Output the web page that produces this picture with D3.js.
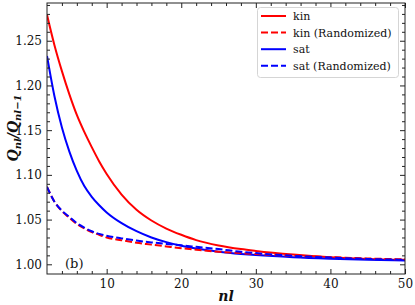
<!DOCTYPE html>
<html><head><meta charset="utf-8">
<script src="https://cdn.jsdelivr.net/npm/d3@7"></script>
<style>
html,body{margin:0;padding:0;background:#fff;}
svg{display:block;}
text{font-family:"DejaVu Serif",serif;fill:#111;}
</style></head>
<body>
<svg id="c" width="415" height="305"></svg>
<script>
const nl = [2,3,4,5,6,7,8,9,10,12,14,16,18,20,22,25,28,30,35,40,45,50];
const kin = [1.279,1.245,1.216,1.190,1.167,1.148,1.131,1.115,1.101,1.078,1.061,1.049,1.040,1.033,1.027,1.021,1.017,1.015,1.011,1.008,1.006,1.005];
const kinRand = [1.0866,1.070,1.0595,1.052,1.045,1.040,1.036,1.033,1.030,1.027,1.024,1.022,1.020,1.018,1.0163,1.014,1.0125,1.0115,1.0095,1.008,1.0065,1.0055];
const sat = [1.233,1.188,1.153,1.126,1.1045,1.0875,1.0755,1.066,1.058,1.046,1.037,1.030,1.0248,1.0208,1.0176,1.0141,1.0116,1.0103,1.0079,1.0063,1.0051,1.0042];
const satRand = [1.0866,1.070,1.060,1.053,1.046,1.041,1.037,1.034,1.032,1.029,1.0265,1.0245,1.0228,1.0212,1.0195,1.017,1.014,1.0125,1.0095,1.0075,1.006,1.005];
const xTicks = [10,20,30,40,50];
const yTicks = [1.00,1.05,1.10,1.15,1.20,1.25];
const seriesNames = ["kin","kin (Randomized)","sat","sat (Randomized)"];
const seriesColors = ["#ff0000","#ff0000","#0000ff","#0000ff"];
const seriesDash = [null,"7,3",null,"7,3"];
const seriesData = [kin,kinRand,sat,satRand];

const L=47,R=405,T=3,B=274;
const svg=d3.select("#c");
const x=d3.scaleLinear().domain([2,50]).range([L,R]);
const y=d3.scaleLinear().domain([0.98915,1.2922]).range([B,T]);

const g=svg.append("g");
svg.append("clipPath").attr("id","clip").append("rect").attr("x",L).attr("y",T).attr("width",R-L).attr("height",B-T);

const line=d3.line().x((d,i)=>x(nl[i])).y(d=>y(d)).curve(d3.curveMonotoneX);
const order=[0,2,1,3];
order.forEach(k=>{
  g.append("path").attr("clip-path","url(#clip)").attr("d",line(seriesData[k]))
   .attr("fill","none").attr("stroke",seriesColors[k]).attr("stroke-width",2)
   .attr("stroke-dasharray",seriesDash[k]);
});

const minorX=d3.range(4,50,2).filter(v=>v%10!==0);
const minorY=d3.range(0,30).map(i=>+(1+i*0.01).toFixed(2)).filter(v=>v<1.2922 && Math.round(v*100)%5!==0);
function tickAxis(axisFn, scale, vals, size, fmt){
  return axisFn(scale).tickValues(vals).tickSizeInner(-size).tickSizeOuter(0).tickPadding(5).tickFormat(fmt);
}
const ax=svg.append("g");
ax.append("g").attr("transform",`translate(0,${B})`).call(tickAxis(d3.axisBottom,x,xTicks,5,d3.format("d")));
ax.append("g").attr("transform",`translate(0,${B})`).call(tickAxis(d3.axisBottom,x,minorX,3,""));
ax.append("g").attr("transform",`translate(0,${T})`).call(tickAxis(d3.axisTop,x,xTicks,5,""));
ax.append("g").attr("transform",`translate(0,${T})`).call(tickAxis(d3.axisTop,x,minorX,3,""));
ax.append("g").attr("transform",`translate(${L},0)`).call(tickAxis(d3.axisLeft,y,yTicks,5,d3.format(".2f")));
ax.append("g").attr("transform",`translate(${L},0)`).call(tickAxis(d3.axisLeft,y,minorY,3,""));
ax.append("g").attr("transform",`translate(${R},0)`).call(tickAxis(d3.axisRight,y,yTicks,5,""));
ax.append("g").attr("transform",`translate(${R},0)`).call(tickAxis(d3.axisRight,y,minorY,3,""));
ax.selectAll(".domain").remove();
ax.selectAll("line").attr("stroke","#222").attr("stroke-width",1);
ax.selectAll("text").attr("font-size","12px").attr("font-family","'DejaVu Serif',serif").attr("fill","#111");
svg.append("rect").attr("x",L).attr("y",T).attr("width",R-L).attr("height",B-T)
  .attr("fill","none").attr("stroke","#222").attr("stroke-width",1);

svg.append("text").attr("x",(L+R)/2).attr("y",301).attr("text-anchor","middle")
  .attr("font-size","14px").attr("font-style","italic").attr("font-weight","bold").text("nl");
const yl=svg.append("text").attr("transform","translate(18,128) rotate(-90)").attr("text-anchor","middle")
  .attr("font-size","14px").attr("font-style","italic").attr("font-weight","bold");
yl.append("tspan").text("Q");
yl.append("tspan").attr("font-size","10px").attr("dy",3).text("nl");
yl.append("tspan").attr("dy",-3).text("/Q");
yl.append("tspan").attr("font-size","10px").attr("dy",3).text("nl−1");

svg.append("text").attr("x",65).attr("y",268).attr("font-size","13px").text("(b)");

const lg=svg.append("g");
lg.append("rect").attr("x",257.5).attr("y",7.5).attr("width",141).attr("height",70).attr("rx",3)
  .attr("fill","#fff").attr("fill-opacity",0.8).attr("stroke","#d5d5d5").attr("stroke-width",1);
seriesNames.forEach((n,i)=>{
  const yy=16+i*16.6;
  lg.append("line").attr("x1",261).attr("x2",286).attr("y1",yy).attr("y2",yy)
    .attr("stroke",seriesColors[i]).attr("stroke-width",2).attr("stroke-dasharray",seriesDash[i]);
  lg.append("text").attr("x",293).attr("y",yy+4).attr("font-size","11px").text(n);
});
</script>
</body></html>
